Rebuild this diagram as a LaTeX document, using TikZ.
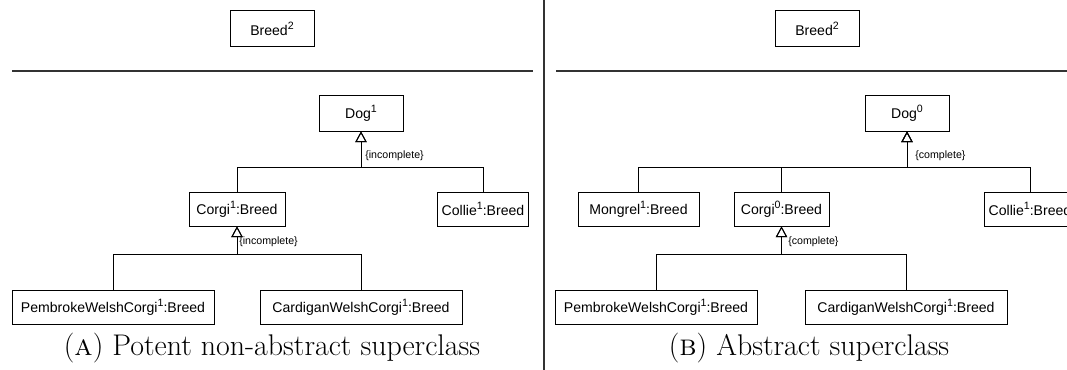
\documentclass[tikz,border=0pt]{standalone}
\usepackage{fontspec}
\usepackage{tikz}
\usepackage{xcolor}
\usetikzlibrary{math,arrows.meta}

\newfontfamily\umlfont{Liberation Sans}
% potency written as a raised index
\newcommand{\pot}[1]{\raisebox{0.42em}{\fontsize{8}{8}\selectfont #1}}

\begin{document}
\begin{tikzpicture}[
  cls/.style={draw, line width=0.7pt, inner sep=0pt, minimum height=34*\scale*1cm,
    font=\umlfont\fontsize{10.6}{12}\selectfont},
  gen/.style={line width=0.7pt, -{Triangle[open,length=8pt,width=8.5pt]}},
  cons/.style={anchor=west, inner sep=0pt, font=\umlfont\fontsize{8}{9}\selectfont},
  capt/.style={anchor=base, inner sep=0pt, font=\fontsize{22.5}{27}\selectfont}
]

\tikzmath{
\scale = 0.026458;
}

\useasboundingbox (0,0) rectangle (1067*\scale,370*\scale);

% divider between the two cases
\draw[line width=1pt, black!80] (544*\scale,0*\scale) -- (544*\scale,370*\scale);


% (a) potent non-abstract superclass
\node[cls, minimum width=84*\scale*1cm, minimum height=36*\scale*1cm] (breedA) at (272*\scale,341.5*\scale) {Breed\pot{2}};
\draw[line width=1pt, black!80] (12*\scale,299*\scale) -- (533*\scale,299*\scale);

\node[cls, minimum width=84*\scale*1cm, minimum height=36*\scale*1cm] (dogA) at (361*\scale,257*\scale) {Dog\pot{1}};
\node[cls, minimum width=96*\scale*1cm] (corgiA) at (237*\scale,161*\scale) {Corgi\pot{1}:Breed};
\node[cls, minimum width=91*\scale*1cm] (collieA) at (483*\scale,161*\scale) {Collie\pot{1}:Breed};
\node[cls, minimum width=202*\scale*1cm] (pembrokeA) at (113*\scale,63*\scale) {PembrokeWelshCorgi\pot{1}:Breed};
\node[cls, minimum width=202*\scale*1cm] (cardiganA) at (361*\scale,63*\scale) {CardiganWelshCorgi\pot{1}:Breed};

\coordinate (barA) at (361*\scale,203*\scale);
\draw[gen] (corgiA.north) |- (barA) -- (dogA.south);
\draw[gen] (collieA.north) |- (barA) -- (dogA.south);
\node[cons] (setA) at (365*\scale,214*\scale) {\{incomplete\}};

\coordinate (subA) at (237*\scale,116*\scale);
\draw[gen] (pembrokeA.north) |- (subA) -- (corgiA.south);
\draw[gen] (cardiganA.north) |- (subA) -- (corgiA.south);
\node[cons] (subsetA) at (239*\scale,128*\scale) {\{incomplete\}};

\node[capt] (captA) at (272*\scale,14*\scale) {(\textsc{a}) Potent non-abstract superclass};


% (b) abstract superclass
\node[cls, minimum width=84*\scale*1cm, minimum height=36*\scale*1cm] (breedB) at (817*\scale,341.5*\scale) {Breed\pot{2}};
\draw[line width=1pt, black!80] (556*\scale,299*\scale) -- (1067*\scale,299*\scale);

\node[cls, minimum width=84*\scale*1cm, minimum height=36*\scale*1cm] (dogB) at (907*\scale,257*\scale) {Dog\pot{0}};
\node[cls, minimum width=121*\scale*1cm] (mongrelB) at (638.5*\scale,161*\scale) {Mongrel\pot{1}:Breed};
\node[cls, minimum width=95*\scale*1cm] (corgiB) at (781.5*\scale,161*\scale) {Corgi\pot{0}:Breed};
\node[cls, minimum width=91*\scale*1cm] (collieB) at (1030*\scale,161*\scale) {Collie\pot{1}:Breed};
\node[cls, minimum width=202*\scale*1cm] (pembrokeB) at (656*\scale,63*\scale) {PembrokeWelshCorgi\pot{1}:Breed};
\node[cls, minimum width=202*\scale*1cm] (cardiganB) at (906*\scale,63*\scale) {CardiganWelshCorgi\pot{1}:Breed};

\coordinate (barB) at (907*\scale,203*\scale);
\draw[gen] (mongrelB.north) |- (barB) -- (dogB.south);
\draw[gen] (corgiB.north) |- (barB) -- (dogB.south);
\draw[gen] (collieB.north) |- (barB) -- (dogB.south);
\node[cons] (setB) at (915*\scale,214*\scale) {\{complete\}};

\coordinate (subB) at (781.5*\scale,116*\scale);
\draw[gen] (pembrokeB.north) |- (subB) -- (corgiB.south);
\draw[gen] (cardiganB.north) |- (subB) -- (corgiB.south);
\node[cons] (subsetB) at (788*\scale,128*\scale) {\{complete\}};

\node[capt] (captB) at (809*\scale,14*\scale) {(\textsc{b}) Abstract superclass};

\end{tikzpicture}
\end{document}
